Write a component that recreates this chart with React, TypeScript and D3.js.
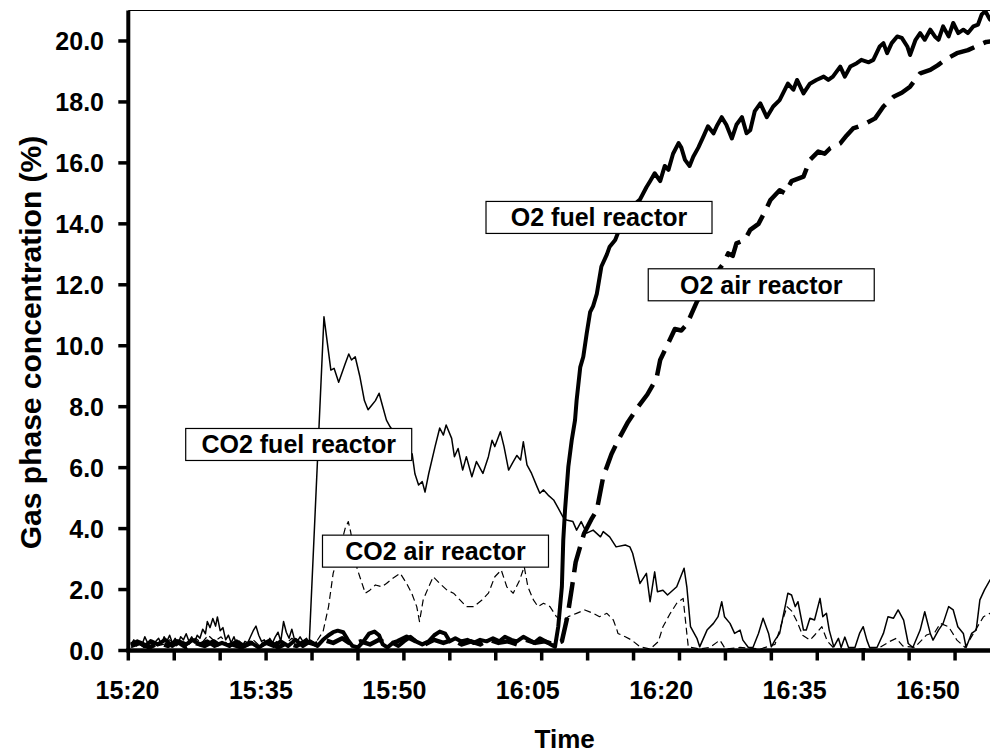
import * as d3 from 'd3';

type Pt = [number, number];

// time in minutes after 15:20, gas concentration in %
const CO2_FUEL: Pt[] = [
  [0.3, 0.2], [0.6, 0.35], [0.9, 0.15], [1.2, 0.3], [1.5, 0.2], [1.8, 0.45], [2.1, 0.25], [2.4, 0.35], [2.7, 0.15],
  [3.0, 0.3], [3.3, 0.4], [3.6, 0.2], [3.9, 0.45], [4.2, 0.3], [4.5, 0.5], [4.8, 0.25], [5.1, 0.4], [5.4, 0.2],
  [5.7, 0.45], [6.0, 0.35], [6.3, 0.55], [6.6, 0.3], [6.9, 0.45], [7.2, 0.25], [7.5, 0.5], [7.8, 0.4], [8.1, 0.7],
  [8.4, 0.55], [8.6, 0.95], [8.9, 0.75], [9.2, 1.05], [9.5, 0.8], [9.7, 1.1], [10.0, 0.65], [10.3, 0.75], [10.6, 0.35],
  [10.9, 0.5], [11.2, 0.25], [11.5, 0.45], [11.8, 0.2], [12.1, 0.3], [12.4, 0.15], [12.7, 0.3], [13.0, 0.25],
  [13.3, 0.45], [13.6, 0.65], [13.9, 0.8], [14.2, 0.5], [14.5, 0.3], [14.8, 0.35], [15.1, 0.2], [15.4, 0.4],
  [15.7, 0.25], [16.0, 0.45], [16.3, 0.6], [16.6, 0.3], [16.9, 0.95], [17.2, 0.6], [17.5, 0.4], [17.8, 0.7],
  [18.1, 0.35], [18.4, 0.3], [18.7, 0.45], [19.0, 0.3], [19.4, 0.4], [19.7, 0.25],
  [21.3, 10.95], [22.05, 9.2], [22.4, 9.26], [22.9, 8.8], [23.6, 9.4], [24.0, 9.73], [24.3, 9.53], [24.7, 9.64],
  [25.2, 9.0], [25.7, 8.2], [26.1, 7.9], [26.5, 8.05], [26.9, 8.2], [27.3, 8.44], [27.7, 8.0], [28.1, 7.56],
  [28.5, 7.34], [29.3, 7.0], [30.0, 6.6], [30.9, 6.45], [31.2, 5.8], [31.6, 5.43], [32.0, 5.54], [32.3, 5.2],
  [32.7, 5.8], [33.4, 6.7], [33.9, 7.3], [34.3, 7.07], [34.6, 7.4], [35.2, 6.96], [35.5, 6.36], [35.9, 6.63],
  [36.4, 5.92], [36.8, 6.36], [37.4, 5.7], [37.9, 6.2], [38.6, 5.81], [39.2, 6.36], [39.6, 6.9], [39.9, 6.69],
  [40.5, 7.18], [40.9, 6.69], [41.4, 5.92], [41.8, 6.14], [42.3, 6.4], [42.7, 6.25], [43.0, 6.85], [43.4, 6.09],
  [43.9, 5.81], [44.5, 5.37], [44.8, 5.16], [45.2, 5.27], [45.7, 5.1], [46.3, 4.94], [46.8, 4.67], [47.3, 4.39],
  [47.7, 4.28], [48.4, 4.23], [48.8, 3.95], [49.3, 4.23], [49.9, 3.85], [50.6, 3.95], [51.4, 3.73], [51.7, 3.9],
  [52.4, 3.73], [53.1, 3.4], [54.1, 3.46], [54.6, 3.4], [54.9, 3.19], [55.7, 2.2], [56.4, 2.53], [56.8, 1.6],
  [57.3, 2.58], [57.6, 1.93], [58.2, 1.98], [58.7, 1.82], [59.7, 2.09], [60.5, 2.7], [60.8, 2.09], [61.2, 0.78],
  [61.9, 0.4], [62.2, 0.12], [63.0, 0.67], [63.7, 0.89], [64.2, 1.11], [64.6, 1.6], [64.9, 1.11], [65.5, 0.89],
  [66.0, 0.56], [66.6, 0.67], [66.9, 0.34], [67.5, 0.1], [68.0, 0.1], [68.6, 0.56], [69.1, 1.06], [69.7, 0.56],
  [70.0, 0.12], [70.4, 0.34], [70.9, 0.56], [71.5, 1.44], [71.8, 1.88], [72.2, 1.82], [72.6, 1.44], [72.9, 1.6],
  [73.5, 0.67], [73.8, 0.67], [74.2, 1.06], [74.7, 1.0], [75.3, 1.71], [75.6, 1.11], [76.0, 1.22], [76.3, 0.67],
  [76.8, 0.12], [77.3, 0.4], [77.6, 0.1], [78.0, 0.44], [78.4, 0.1], [79.1, 0.1], [79.6, 0.56], [80.0, 0.78],
  [80.4, 0.34], [80.7, 0.1], [81.5, 0.1], [82.2, 0.56], [82.7, 1.11], [83.3, 1.06], [83.8, 1.33], [84.4, 1.0],
  [84.9, 0.23], [85.4, 0.1], [86.2, 0.67], [86.7, 1.27], [87.3, 0.56], [87.6, 0.34], [88.2, 0.67], [88.7, 0.89],
  [89.3, 1.44], [89.8, 1.33], [90.3, 0.78], [90.9, 0.56], [91.2, 0.1], [91.8, 0.56], [92.3, 0.67], [92.7, 1.66],
  [93.2, 1.99], [93.8, 2.31], [94.5, 2.5],
];

const CO2_AIR: Pt[] = [
  [0.3, 0.1], [1.0, 0.25], [1.7, 0.1], [2.4, 0.3], [3.1, 0.15], [3.8, 0.2], [4.5, 0.35], [5.2, 0.15], [5.9, 0.3],
  [6.6, 0.2], [7.3, 0.4], [8.0, 0.25], [8.7, 0.5], [9.4, 0.3], [10.1, 0.45], [10.8, 0.2], [11.5, 0.3], [12.2, 0.15],
  [12.9, 0.25], [13.6, 0.35], [14.3, 0.15], [15.0, 0.3], [15.7, 0.2], [16.4, 0.35], [17.1, 0.2], [17.8, 0.4],
  [18.5, 0.25], [19.2, 0.3], [19.9, 0.2], [20.5, 0.3],
  [21.2, 0.62], [21.8, 1.44], [22.3, 2.53], [23.0, 3.3], [23.6, 4.0], [23.95, 4.23], [24.2, 3.9], [24.6, 3.2],
  [24.9, 2.7], [25.2, 2.42], [25.8, 1.88], [26.3, 1.98], [26.9, 2.15], [27.6, 2.09], [28.1, 2.2], [28.8, 2.37],
  [29.6, 2.53], [30.3, 2.2], [30.85, 1.88], [31.4, 1.44], [31.7, 0.95], [32.1, 1.66], [32.7, 2.09], [33.2, 2.42],
  [33.9, 2.2], [34.7, 1.98], [35.4, 1.88], [36.1, 1.66], [36.8, 1.44], [37.6, 1.44], [38.5, 1.66], [39.2, 1.88],
  [39.9, 2.42], [40.6, 2.64], [41.2, 2.09], [41.9, 1.88], [42.6, 2.31], [43.1, 2.75], [43.5, 2.09], [44.1, 1.66],
  [44.6, 1.44], [45.2, 1.55], [45.9, 1.44], [46.6, 1.11], [47.4, 1.0], [47.9, 1.11], [48.8, 1.22], [49.7, 1.33],
  [50.6, 1.22], [51.3, 1.11], [52.1, 1.22], [52.8, 1.0], [53.2, 0.67], [53.3, 0.56], [54.1, 0.45], [54.8, 0.34],
  [55.7, 0.12], [56.8, 0.05], [57.7, 0.29], [58.2, 0.78], [59.0, 1.22], [59.7, 1.55], [60.4, 1.71], [60.8, 0.56],
  [60.96, 0.12], [62.2, 0.05], [63.3, 0.1], [64.4, 0.34], [65.0, 0.05], [66.6, 0.1], [68.8, 0.05], [70.4, 0.2],
  [71.7, 1.44], [72.2, 1.3], [72.8, 0.95], [73.4, 0.5], [74.2, 0.34], [74.7, 0.5], [75.5, 0.78], [76.1, 0.3],
  [76.9, 0.05], [79.6, 0.05], [81.8, 0.1], [82.9, 0.3], [83.6, 0.4], [84.3, 0.15], [85.6, 0.1], [86.9, 0.51],
  [87.8, 0.6], [88.4, 0.89], [89.3, 0.78], [90.2, 0.34], [91.1, 0.1], [92.0, 0.56], [93.1, 1.11], [93.8, 1.22],
  [94.5, 1.3],
];

const O2_FUEL: Pt[] = [
  [0.3, 0.2], [1.0, 0.3], [1.8, 0.15], [2.5, 0.3], [3.2, 0.2], [4.0, 0.35], [4.8, 0.15], [5.5, 0.3], [6.3, 0.2],
  [7.0, 0.35], [7.8, 0.2], [8.6, 0.3], [9.4, 0.15], [10.2, 0.25], [11.0, 0.15], [11.8, 0.3], [12.6, 0.15],
  [13.4, 0.25], [14.2, 0.1], [15.0, 0.25], [15.8, 0.15], [16.6, 0.3], [17.4, 0.15], [18.2, 0.35], [19.0, 0.15],
  [19.8, 0.3], [20.6, 0.15], [21.2, 0.35], [21.8, 0.5], [22.3, 0.6], [22.8, 0.65], [23.4, 0.6], [23.9, 0.35],
  [24.4, 0.15], [25.0, 0.1], [25.6, 0.3], [26.2, 0.55], [26.8, 0.62], [27.3, 0.5], [27.7, 0.2], [28.2, 0.1],
  [28.8, 0.25], [29.4, 0.15], [30.0, 0.3], [30.7, 0.45], [31.3, 0.3], [32.0, 0.2], [32.7, 0.3], [33.3, 0.5],
  [33.9, 0.62], [34.5, 0.55], [35.0, 0.3], [35.6, 0.4], [36.2, 0.3], [36.9, 0.35], [37.6, 0.25], [38.3, 0.35],
  [39.0, 0.3], [39.7, 0.4], [40.4, 0.3], [41.0, 0.45], [41.7, 0.35], [42.3, 0.3], [43.0, 0.45], [43.6, 0.35],
  [44.2, 0.25], [44.8, 0.4], [45.4, 0.3], [46.0, 0.2], [46.45, 0.12],
  [46.8, 0.78], [47.2, 2.1], [47.35, 3.63], [47.54, 4.6], [47.9, 6.03], [48.27, 6.9], [48.63, 7.56], [48.8, 8.2],
  [49.2, 9.3], [49.53, 9.64], [49.9, 10.4], [50.27, 11.1], [50.6, 11.3], [51.0, 11.7], [51.5, 12.6], [52.1, 13.0],
  [52.4, 13.25], [53.0, 13.47], [53.3, 13.7], [53.5, 14.1], [54.6, 14.5], [55.7, 14.8], [56.4, 15.2], [56.8, 15.4],
  [57.3, 15.66], [57.9, 15.4], [58.4, 15.9], [58.8, 15.77], [59.3, 16.3], [59.9, 16.65], [60.2, 16.5], [60.6, 16.1],
  [61.1, 15.9], [61.5, 16.2], [62.05, 16.5], [62.6, 16.86], [63.1, 17.2], [63.7, 16.97], [64.05, 17.2], [64.6, 17.5],
  [65.1, 17.25], [65.7, 16.8], [66.2, 17.25], [66.8, 17.5], [67.3, 16.97], [67.7, 17.07], [68.2, 17.7], [68.8, 17.95],
  [69.5, 17.5], [70.2, 17.85], [70.9, 18.06], [71.8, 18.6], [72.4, 18.4], [72.8, 18.72], [73.5, 18.28], [74.2, 18.6],
  [74.9, 18.72], [75.7, 18.83], [76.2, 18.72], [76.7, 18.83], [77.5, 19.16], [78.0, 18.83], [78.6, 19.16],
  [79.3, 19.27], [79.8, 19.38], [80.6, 19.3], [81.1, 19.38], [81.8, 19.82], [82.2, 19.93], [82.6, 19.6],
  [83.1, 19.93], [83.7, 20.15], [84.2, 20.1], [84.8, 19.82], [85.1, 19.54], [85.7, 20.04], [86.2, 20.26],
  [86.7, 20.04], [87.3, 20.37], [87.8, 20.15], [88.2, 20.04], [88.7, 20.48], [89.3, 20.15], [89.8, 20.59],
  [90.35, 20.26], [90.9, 20.37], [91.4, 20.26], [92.0, 20.48], [92.5, 20.54], [92.9, 20.87], [93.3, 20.98],
  [93.6, 20.81], [93.8, 20.7], [94.5, 20.9],
];

const O2_AIR: Pt[] = [
  [0.3, 0.15], [1.3, 0.25], [2.3, 0.1], [3.3, 0.25], [4.3, 0.15], [5.3, 0.3], [6.3, 0.1], [7.3, 0.25], [8.3, 0.15],
  [9.3, 0.3], [10.3, 0.1], [11.3, 0.2], [12.3, 0.1], [13.3, 0.25], [14.3, 0.15], [15.3, 0.3], [16.3, 0.1],
  [17.3, 0.25], [18.3, 0.15], [19.3, 0.3], [20.3, 0.2], [21.3, 0.35], [22.3, 0.25], [23.3, 0.4], [24.3, 0.2],
  [25.3, 0.3], [26.3, 0.2], [27.3, 0.35], [28.3, 0.2], [29.3, 0.3], [30.3, 0.45], [31.3, 0.3], [32.3, 0.2],
  [33.3, 0.35], [34.3, 0.25], [35.3, 0.35], [36.3, 0.2], [37.3, 0.3], [38.3, 0.2], [39.3, 0.35], [40.3, 0.25],
  [41.3, 0.3], [42.3, 0.2], [43.3, 0.35], [44.3, 0.25], [45.3, 0.3], [46.3, 0.2], [47.2, 0.3],
  [47.8, 1.11], [48.3, 2.08], [48.7, 2.9], [49.6, 3.83], [50.4, 4.3], [51.0, 4.6], [51.7, 5.7], [52.6, 6.45],
  [53.5, 7.0], [54.4, 7.5], [55.5, 8.0], [56.5, 8.4], [57.5, 8.93], [57.9, 9.53], [58.6, 9.97], [59.5, 10.55],
  [60.2, 10.5], [60.8, 10.7], [61.9, 11.45], [63.3, 12.1], [64.8, 12.7], [65.3, 13.03], [65.8, 12.95], [66.2, 13.36],
  [67.1, 13.47], [67.7, 13.8], [68.6, 14.0], [69.3, 14.4], [69.9, 14.78], [70.9, 15.1], [71.5, 15.0], [72.2, 15.4],
  [73.5, 15.55], [74.2, 16.1], [75.1, 16.37], [75.8, 16.3], [76.4, 16.48], [77.5, 16.64], [78.2, 16.9],
  [78.9, 17.13], [80.0, 17.25], [81.3, 17.46], [82.2, 17.85], [83.3, 18.17], [84.2, 18.3], [85.1, 18.5],
  [86.2, 18.94], [87.3, 19.05], [88.1, 19.2], [88.9, 19.38], [90.2, 19.6], [91.4, 19.7], [92.5, 19.85],
  [93.4, 19.97], [94.5, 20.0],
];

const Y_TICKS = [0, 2, 4, 6, 8, 10, 12, 14, 16, 18, 20];
const X_TICKS = [0, 5, 10, 15, 20, 25, 30, 35, 40, 45, 50, 55, 60, 65, 70, 75, 80, 85, 90];
const X_LABEL_MIN = [0, 15, 30, 45, 60, 75, 90];
const X_LABELS = ['15:20', '15:35', '15:50', '16:05', '16:20', '16:35', '16:50'];

// text boxes: centre in data units (minutes, %)
const NOTES = [
  { text: 'O2 fuel reactor', t: 51.24, v: 14.21 },
  { text: 'O2 air reactor', t: 68.9, v: 12.0 },
  { text: 'CO2 fuel reactor', t: 18.55, v: 6.76 },
  { text: 'CO2 air reactor', t: 33.44, v: 3.26 },
];

const FONT = '"Liberation Sans", Arial, Helvetica, sans-serif';

export default function App() {
  const x = d3.scaleLinear().domain([0, 95]).range([128.3, 1001]);
  // Excel placed the category labels on a slightly tighter spacing than the ticks
  const xLab = d3.scaleLinear().domain([0, 90]).range([127.5, 928]);
  const y = d3.scaleLinear().domain([0, 21]).range([650.5, 10.5]);

  const line = d3.line<Pt>().x(d => x(d[0])).y(d => y(d[1]));

  const left = x(0);
  const right = x(95);
  const top = y(21);
  const bottom = y(0);

  return (
    <svg width={990} height={756} style={{ position: 'absolute', left: 0, top: 0, background: '#fff' }}
      fontFamily={FONT} fontWeight="bold">
      <defs>
        <clipPath id="plot">
          <rect x={left} y={top} width={right - left} height={bottom - top + 4} />
        </clipPath>
      </defs>

      {/* frame top */}
      <line x1={left} x2={right} y1={top} y2={top} stroke="#000" strokeWidth={1.2} />

      <g clipPath="url(#plot)" fill="none" stroke="#000" strokeLinejoin="round">
        <path d={line(CO2_FUEL) ?? ''} strokeWidth={1.5} />
        <path d={line(CO2_AIR) ?? ''} strokeWidth={1.2} strokeDasharray="7 4" />
        <path d={line(O2_FUEL) ?? ''} strokeWidth={4} />
        <path d={line(O2_AIR) ?? ''} strokeWidth={4.5} strokeDasharray="26 10" />
      </g>

      {/* axes */}
      <line x1={left} x2={left} y1={top} y2={bottom} stroke="#000" strokeWidth={4} />
      <line x1={left - 2} x2={right} y1={bottom} y2={bottom} stroke="#000" strokeWidth={4.5} />

      {Y_TICKS.map(t => (
        <g key={t}>
          <line x1={left - 10} x2={left} y1={y(t)} y2={y(t)} stroke="#000" strokeWidth={3.5} />
          <text x={104} y={y(t) + 9} textAnchor="end" fontSize={25}>{t.toFixed(1)}</text>
        </g>
      ))}

      {X_TICKS.map(t => (
        <line key={t} x1={x(t)} x2={x(t)} y1={bottom} y2={bottom + 10} stroke="#000" strokeWidth={3.5} />
      ))}
      {X_LABEL_MIN.map((t, i) => (
        <text key={t} x={xLab(t)} y={699} textAnchor="middle" fontSize={25}>{X_LABELS[i]}</text>
      ))}

      <text x={(left + right) / 2} y={748} textAnchor="middle" fontSize={26}>Time</text>
      <text transform={`translate(41,${(top + bottom) / 2 + 12}) rotate(-90)`} textAnchor="middle" fontSize={30}>
        Gas phase concentration (%)
      </text>

      {NOTES.map(n => {
        const cx = x(n.t);
        const cy = y(n.v);
        return (
          <g key={n.text}>
            <rect x={cx - 113} y={cy - 16} width={226} height={32} fill="#fff" stroke="#000" strokeWidth={1.2} />
            <text x={cx} y={cy + 9} textAnchor="middle" fontSize={25}>{n.text}</text>
          </g>
        );
      })}
    </svg>
  );
}
